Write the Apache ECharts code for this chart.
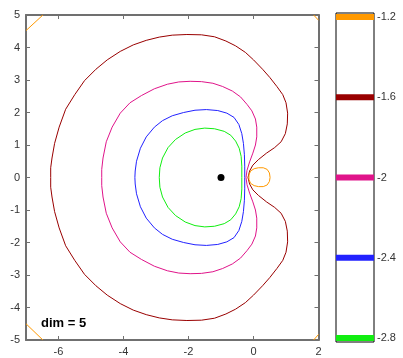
<!DOCTYPE html>
<html>
<head>
<meta charset="utf-8">
<script src="https://cdn.jsdelivr.net/npm/echarts@6/dist/echarts.min.js"></script>
<style>
  html, body { margin: 0; padding: 0; background: #fff; }
  #chart { width: 403px; height: 358px; }
</style>
</head>
<body>
<div id="chart"></div>
<script>
// Contour levels and their colours
const levels = [-2.8, -2.4, -2, -1.6, -1.2];
const levelColors = ['#11ee11', '#2222ff', '#e0148a', '#990000', '#ff9900'];

// Tick labels
const xTicks = [-6, -4, -2, 0, 2];
const yTicks = [-5, -4, -3, -2, -1, 0, 1, 2, 3, 4, 5];

// Contour at -2.8
const contourA = [
  [-0.36, 0], [-0.36, 0.35], [-0.38, 0.65], [-0.44, 0.9], [-0.55, 1.12], [-0.7, 1.3],
  [-0.9, 1.42], [-1.2, 1.5], [-1.5, 1.52], [-1.8, 1.48], [-2.1, 1.37], [-2.4, 1.17],
  [-2.63, 0.92], [-2.8, 0.6], [-2.88, 0.3], [-2.9, 0],
  [-2.88, -0.3], [-2.8, -0.6], [-2.63, -0.92], [-2.4, -1.17], [-2.1, -1.37], [-1.8, -1.48],
  [-1.5, -1.52], [-1.2, -1.5], [-0.9, -1.42], [-0.7, -1.3], [-0.55, -1.12], [-0.44, -0.9],
  [-0.38, -0.65], [-0.36, -0.35], [-0.36, 0]
];

// Contour at -2.4
const contourB = [
  [-0.27, 0], [-0.27, 0.35], [-0.28, 0.7], [-0.31, 1.05], [-0.36, 1.35], [-0.45, 1.63],
  [-0.6, 1.85], [-0.82, 1.98], [-1.1, 2.06], [-1.45, 2.09], [-1.8, 2.07], [-2.15, 2.0],
  [-2.5, 1.9], [-2.8, 1.75], [-3.05, 1.55], [-3.3, 1.25], [-3.48, 0.9], [-3.6, 0.5],
  [-3.64, 0.2], [-3.65, 0],
  [-3.64, -0.2], [-3.6, -0.5], [-3.48, -0.9], [-3.3, -1.25], [-3.05, -1.55], [-2.8, -1.75],
  [-2.5, -1.9], [-2.15, -2.0], [-1.8, -2.07], [-1.45, -2.09], [-1.1, -2.06], [-0.82, -1.98],
  [-0.6, -1.85], [-0.45, -1.63], [-0.36, -1.35], [-0.31, -1.05], [-0.28, -0.7], [-0.27, -0.35],
  [-0.27, 0]
];

// Contour at -2
const contourC = [
  [-0.23, 0], [-0.2, 0.22], [-0.12, 0.48], [-0.02, 0.75], [0.06, 1.0], [0.1, 1.25],
  [0.1, 1.55], [0.06, 1.8], [-0.05, 2.05], [-0.2, 2.25], [-0.4, 2.48], [-0.65, 2.66],
  [-0.95, 2.8], [-1.25, 2.9], [-1.6, 2.95], [-1.95, 2.96], [-2.3, 2.94], [-2.65, 2.87],
  [-3.05, 2.73], [-3.45, 2.52], [-3.8, 2.3], [-4.1, 1.98], [-4.35, 1.55], [-4.53, 1.1],
  [-4.63, 0.6], [-4.67, 0.25], [-4.67, 0],
  [-4.67, -0.25], [-4.63, -0.6], [-4.53, -1.1], [-4.35, -1.55], [-4.1, -1.98], [-3.8, -2.3],
  [-3.45, -2.52], [-3.05, -2.73], [-2.65, -2.87], [-2.3, -2.94], [-1.95, -2.96], [-1.6, -2.95],
  [-1.25, -2.9], [-0.95, -2.8], [-0.65, -2.66], [-0.4, -2.48], [-0.2, -2.25], [-0.05, -2.05],
  [0.06, -1.8], [0.1, -1.55], [0.1, -1.25], [0.06, -1.0], [-0.02, -0.75], [-0.12, -0.48],
  [-0.2, -0.22], [-0.23, 0]
];

// Contour at -1.6
const contourD = [
  [-0.17, 0], [-0.12, 0.2], [-0.02, 0.38], [0.15, 0.55], [0.4, 0.75], [0.65, 0.92],
  [0.85, 1.1], [0.98, 1.35], [1.04, 1.65], [1.05, 1.98], [1.0, 2.3], [0.9, 2.55],
  [0.72, 2.8], [0.5, 3.08], [0.28, 3.33], [0.0, 3.62], [-0.25, 3.85], [-0.55, 4.05],
  [-0.85, 4.2], [-1.2, 4.33], [-1.6, 4.39], [-2.05, 4.4], [-2.5, 4.38], [-2.9, 4.32],
  [-3.3, 4.22], [-3.7, 4.08], [-4.1, 3.88], [-4.5, 3.62], [-4.85, 3.33], [-5.2, 2.98],
  [-5.5, 2.55], [-5.78, 2.1], [-5.98, 1.55], [-6.12, 1.05], [-6.2, 0.6], [-6.24, 0.3],
  [-6.24, 0],
  [-6.24, -0.3], [-6.2, -0.6], [-6.12, -1.05], [-5.98, -1.55], [-5.78, -2.1], [-5.5, -2.55],
  [-5.2, -2.98], [-4.85, -3.33], [-4.5, -3.62], [-4.1, -3.88], [-3.7, -4.08], [-3.3, -4.22],
  [-2.9, -4.32], [-2.5, -4.38], [-2.05, -4.4], [-1.6, -4.39], [-1.2, -4.33], [-0.85, -4.2],
  [-0.55, -4.05], [-0.25, -3.85], [0.0, -3.62], [0.28, -3.33], [0.5, -3.08], [0.72, -2.8],
  [0.9, -2.55], [1.0, -2.3], [1.05, -1.98], [1.04, -1.65], [0.98, -1.35], [0.85, -1.1],
  [0.65, -0.92], [0.4, -0.75], [0.15, -0.55], [-0.02, -0.38], [-0.12, -0.2], [-0.17, 0]
];

// Contour at -1.2: small loop right of the pinch, plus the four corners
const contourE = [
  [0.51, 0], [0.49, 0.14], [0.42, 0.25], [0.3, 0.3], [0.15, 0.3], [0.02, 0.27],
  [-0.09, 0.2], [-0.14, 0.08], [-0.14, -0.06], [-0.09, -0.18], [0.02, -0.25], [0.15, -0.28],
  [0.3, -0.28], [0.42, -0.23], [0.49, -0.12], [0.51, 0]
];
const cornerTL = [[-7, 4.52], [-6.48, 5]];
const cornerTR = [[1.85, 5], [2, 4.84]];
const cornerBL = [[-7, -4.5], [-6.48, -5]];
const cornerBR = [[1.85, -5], [2, -4.83]];

// Marked point
const pole = [[-1, 0]];

const frameColor = '#707070';
const labelColor = '#333';
const font = 'Liberation Sans, Arial, sans-serif';

function contour(data, color) {
  return {
    type: 'line', xAxisIndex: 0, yAxisIndex: 0, data: data,
    showSymbol: false, symbol: 'none', silent: true, clip: true,
    lineStyle: { color: color, width: 1 }
  };
}

function band(value, color) {
  return {
    type: 'line', xAxisIndex: 2, yAxisIndex: 2,
    data: [[0, value], [1, value]],
    showSymbol: false, symbol: 'none', silent: true,
    lineStyle: { color: color, width: 6 }
  };
}

const chart = echarts.init(document.getElementById('chart'), null, { renderer: 'canvas' });

const series = [
  contour(contourA, levelColors[0]),
  contour(contourB, levelColors[1]),
  contour(contourC, levelColors[2]),
  contour(contourD, levelColors[3]),
  contour(contourE, levelColors[4]),
  contour(cornerTL, levelColors[4]),
  contour(cornerTR, levelColors[4]),
  contour(cornerBL, levelColors[4]),
  contour(cornerBR, levelColors[4]),
  {
    type: 'scatter', xAxisIndex: 0, yAxisIndex: 0, data: pole,
    symbol: 'circle', symbolSize: 7, silent: true,
    itemStyle: { color: '#000', opacity: 1 }
  }
];
levels.forEach((v, i) => series.push(band(v, levelColors[i])));

chart.setOption({
  animation: false,
  backgroundColor: '#fff',
  title: {
    text: 'dim = 5', left: 41, top: 317, padding: 0,
    textStyle: { fontSize: 13, fontWeight: 'bold', color: '#000', fontFamily: font }
  },
  grid: [
    { left: 26, top: 15, width: 292.5, height: 325 },
    { left: 336, top: 13, width: 38, height: 329, show: true, borderColor: '#000', borderWidth: 1, backgroundColor: '#fff' }
  ],
  xAxis: [
    {
      type: 'value', gridIndex: 0, position: 'bottom', min: -7, max: 2,
      axisLine: { show: true, onZero: false, lineStyle: { color: frameColor, width: 2 } },
      axisTick: { show: true, inside: true, length: 4, customValues: xTicks, lineStyle: { color: frameColor } },
      axisLabel: { show: true, customValues: xTicks, color: labelColor, fontSize: 11, fontFamily: font, margin: 6 },
      splitLine: { show: false }
    },
    {
      type: 'value', gridIndex: 0, position: 'top', min: -7, max: 2,
      axisLine: { show: true, onZero: false, lineStyle: { color: frameColor, width: 2 } },
      axisTick: { show: true, inside: true, length: 4, customValues: xTicks, lineStyle: { color: frameColor } },
      axisLabel: { show: false },
      splitLine: { show: false }
    },
    {
      type: 'value', gridIndex: 1, min: 0, max: 1, show: false
    }
  ],
  yAxis: [
    {
      type: 'value', gridIndex: 0, position: 'left', min: -5, max: 5, interval: 1,
      axisLine: { show: true, onZero: false, lineStyle: { color: frameColor, width: 2 } },
      axisTick: { show: true, inside: true, length: 4, lineStyle: { color: frameColor } },
      axisLabel: { show: true, customValues: yTicks, color: labelColor, fontSize: 11, fontFamily: font, margin: 6 },
      splitLine: { show: false }
    },
    {
      type: 'value', gridIndex: 0, position: 'right', min: -5, max: 5, interval: 1,
      axisLine: { show: true, onZero: false, lineStyle: { color: frameColor, width: 2 } },
      axisTick: { show: true, inside: true, length: 4, lineStyle: { color: frameColor } },
      axisLabel: { show: false },
      splitLine: { show: false }
    },
    {
      type: 'value', gridIndex: 1, position: 'right', min: -2.82, max: -1.18,
      axisLine: { show: false },
      axisTick: { show: false },
      axisLabel: { show: true, customValues: levels, color: labelColor, fontSize: 11, fontFamily: font, margin: 3 },
      splitLine: { show: false }
    }
  ],
  series: series
});
</script>
</body>
</html>
